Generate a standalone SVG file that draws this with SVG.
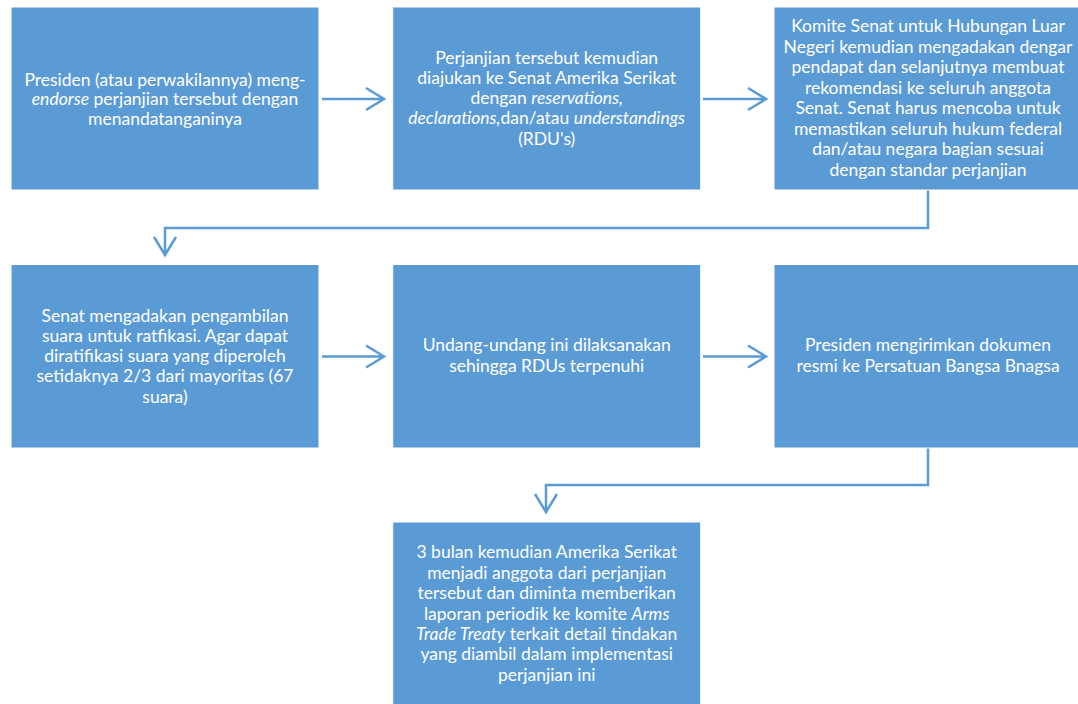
<svg xmlns="http://www.w3.org/2000/svg" width="1078" height="704" viewBox="0 0 1078 704">
<style>
.box{fill:#5B9BD5;stroke:#ffffff;stroke-width:1}
.t{font-family:Lato,"Open Sans","Liberation Sans",sans-serif;font-size:17.5px;fill:#ffffff;text-anchor:middle}
.i{font-style:italic}
.c{fill:none;stroke:#5B9BD5;stroke-width:2.5}
</style>
<rect width="1078" height="704" fill="#ffffff"/>
<g id="connectors">
<path class="c" d="M322,99H384M366,88L384,99L366,110"/>
<path class="c" d="M703,99H766M748,88L766,99L748,110"/>
<path class="c" d="M928,190V228H165V255M154,237L165,255L176,237"/>
<path class="c" d="M322,356.5H384M366,345.5L384,356.5L366,367.5"/>
<path class="c" d="M703,356.5H766M748,345.5L766,356.5L748,367.5"/>
<path class="c" d="M928,448V485H546V512M535,494L546,512L557,494"/>
</g>
<g id="n1">
<rect class="box" x="11" y="7" width="308" height="183"/>
<text class="t" x="165" y="85.5">Presiden (atau perwakilannya) meng-</text>
<text class="t" x="165" y="105"><tspan class="i">endorse</tspan> perjanjian tersebut dengan</text>
<text class="t" x="165" y="124.5">menandatanganinya</text>
</g>
<g id="n2">
<rect class="box" x="392.7" y="7" width="308" height="183"/>
<text class="t" x="546.7" y="63.5">Perjanjian tersebut kemudian</text>
<text class="t" x="546.7" y="83.8">diajukan ke Senat Amerika Serikat</text>
<text class="t" x="546.7" y="104.1">dengan <tspan class="i">reservations,</tspan></text>
<text class="t" x="546.7" y="124.4"><tspan class="i">declarations,</tspan>dan/atau <tspan class="i">understandings</tspan></text>
<text class="t" x="546.7" y="144.7">(RDU's)</text>
</g>
<g id="n3">
<rect class="box" x="774" y="7" width="308" height="183"/>
<text class="t" x="928" y="32.3">Komite Senat untuk Hubungan Luar</text>
<text class="t" x="928" y="52.8">Negeri kemudian mengadakan dengar</text>
<text class="t" x="928" y="73.3">pendapat dan selanjutnya membuat</text>
<text class="t" x="928" y="93.8">rekomendasi ke seluruh anggota</text>
<text class="t" x="928" y="114.3">Senat. Senat harus mencoba untuk</text>
<text class="t" x="928" y="134.8">memastikan seluruh hukum federal</text>
<text class="t" x="928" y="155.3">dan/atau negara bagian sesuai</text>
<text class="t" x="928" y="175.8">dengan standar perjanjian</text>
</g>
<g id="n4">
<rect class="box" x="11" y="264.5" width="308" height="183.5"/>
<text class="t" x="165" y="321.7">Senat mengadakan pengambilan</text>
<text class="t" x="165" y="341.9">suara untuk ratfikasi. Agar dapat</text>
<text class="t" x="165" y="362.1">diratifikasi suara yang diperoleh</text>
<text class="t" x="165" y="382.3">setidaknya 2/3 dari mayoritas (67</text>
<text class="t" x="165" y="402.5">suara)</text>
</g>
<g id="n5">
<rect class="box" x="392.7" y="264.5" width="308" height="183.5"/>
<text class="t" x="546.7" y="351">Undang-undang ini dilaksanakan</text>
<text class="t" x="546.7" y="371.5">sehingga RDUs terpenuhi</text>
</g>
<g id="n6">
<rect class="box" x="774" y="264.5" width="308" height="183.5"/>
<text class="t" x="928" y="351">Presiden mengirimkan dokumen</text>
<text class="t" x="928" y="371.5">resmi ke Persatuan Bangsa Bnagsa</text>
</g>
<g id="n7">
<rect class="box" x="392.7" y="522" width="308" height="183"/>
<text class="t" x="546.7" y="558.3">3 bulan kemudian Amerika Serikat</text>
<text class="t" x="546.7" y="578.7">menjadi anggota dari perjanjian</text>
<text class="t" x="546.7" y="599.1">tersebut dan diminta memberikan</text>
<text class="t" x="546.7" y="619.5">laporan periodik ke komite <tspan class="i">Arms</tspan></text>
<text class="t" x="546.7" y="639.9"><tspan class="i">Trade Treaty</tspan> terkait detail tindakan</text>
<text class="t" x="546.7" y="660.3">yang diambil dalam implementasi</text>
<text class="t" x="546.7" y="680.7">perjanjian ini</text>
</g>
</svg>
